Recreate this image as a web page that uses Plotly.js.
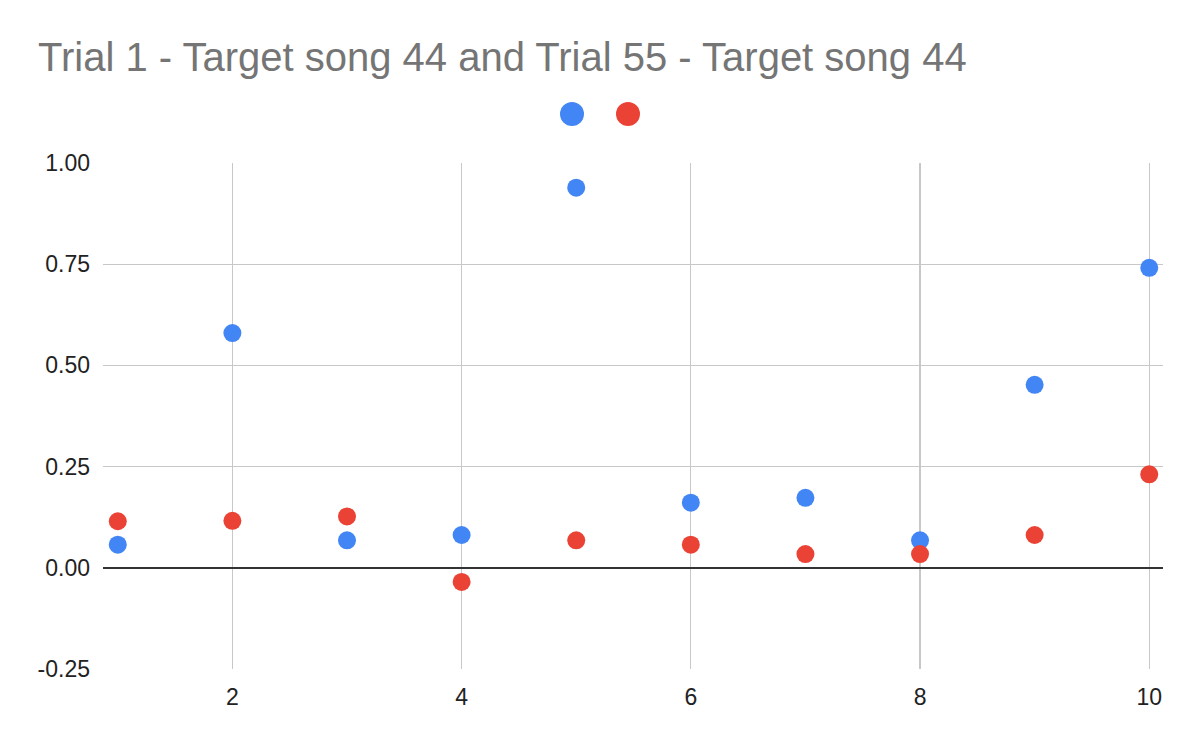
<!DOCTYPE html>
<html>
<head>
<meta charset="utf-8">
<script src="https://cdn.plot.ly/plotly-3.0.1.min.js"></script>
<style>html,body{margin:0;padding:0;background:#fff;}#chart{width:1200px;height:742px;}</style>
</head>
<body>
<div id="chart"></div>
<script>
// Data
const xValues = [1, 2, 3, 4, 5, 6, 7, 8, 9, 10];
const trial1 = [0.057, 0.580, 0.068, 0.081, 0.939, 0.161, 0.173, 0.068, 0.452, 0.741];
const trial55 = [0.115, 0.116, 0.127, -0.035, 0.068, 0.057, 0.034, 0.034, 0.081, 0.231];
const yTicks = [-0.25, 0, 0.25, 0.5, 0.75, 1.0];
const xTicks = [2, 4, 6, 8, 10];
const titleText = 'Trial 1 - Target song 44 and Trial 55 - Target song 44';

const FONT = 'Arial, "Liberation Sans", sans-serif';

const traces = [
  {x: xValues, y: trial1, type: 'scatter', mode: 'markers', name: '',
   marker: {color: '#4285f4', size: 18}},
  {x: xValues, y: trial55, type: 'scatter', mode: 'markers', name: '',
   marker: {color: '#ea4335', size: 18}}
];

const layout = {
  width: 1200, height: 742,
  paper_bgcolor: '#ffffff', plot_bgcolor: '#ffffff',
  margin: {l: 103, r: 37, t: 163, b: 73, pad: 0},
  font: {family: FONT, color: '#222222', size: 23},
  title: {text: titleText, x: 38 / 1200, xref: 'container', xanchor: 'left',
          y: 1 - 57 / 742, yref: 'container', yanchor: 'middle',
          font: {family: FONT, size: 40, color: '#757575'}},
  showlegend: true,
  legend: {orientation: 'h', xref: 'container', yref: 'container',
           x: 608 / 1200, xanchor: 'center', y: 1 - 114 / 742, yanchor: 'middle',
           entrywidth: 11, entrywidthmode: 'pixels', itemsizing: 'constant',
           bgcolor: 'rgba(0,0,0,0)', font: {size: 12}},
  xaxis: {range: [0.871, 10.12], tickvals: xTicks, ticktext: xTicks.map(String),
          showgrid: true, gridcolor: '#c8c8c8', gridwidth: 1.2,
          zeroline: false, showline: false, ticks: '', ticklabelstandoff: 12,
          tickfont: {family: FONT, size: 23, color: '#222222'}},
  yaxis: {range: [-0.25, 1.0], tickvals: yTicks, ticktext: yTicks.map(v => v.toFixed(2)),
          showgrid: true, gridcolor: '#c8c8c8', gridwidth: 1.2,
          zeroline: true, zerolinecolor: '#333333', zerolinewidth: 1.6,
          showline: false, ticks: '', ticklabelstandoff: 12,
          tickfont: {family: FONT, size: 23, color: '#222222'}}
};

Plotly.newPlot('chart', traces, layout, {staticPlot: true, displayModeBar: false}).then(function () {
  // Enlarge the legend dots to match the reference (24px diameter)
  const r = 12;
  const d = 'M' + r + ',0A' + r + ',' + r + ' 0 1,1 0,-' + r + 'A' + r + ',' + r + ' 0 0,1 ' + r + ',0Z';
  document.querySelectorAll('.legend .legendpoints path.scatterpts').forEach(function (p) {
    p.setAttribute('d', d);
  });
});
</script>
</body>
</html>
